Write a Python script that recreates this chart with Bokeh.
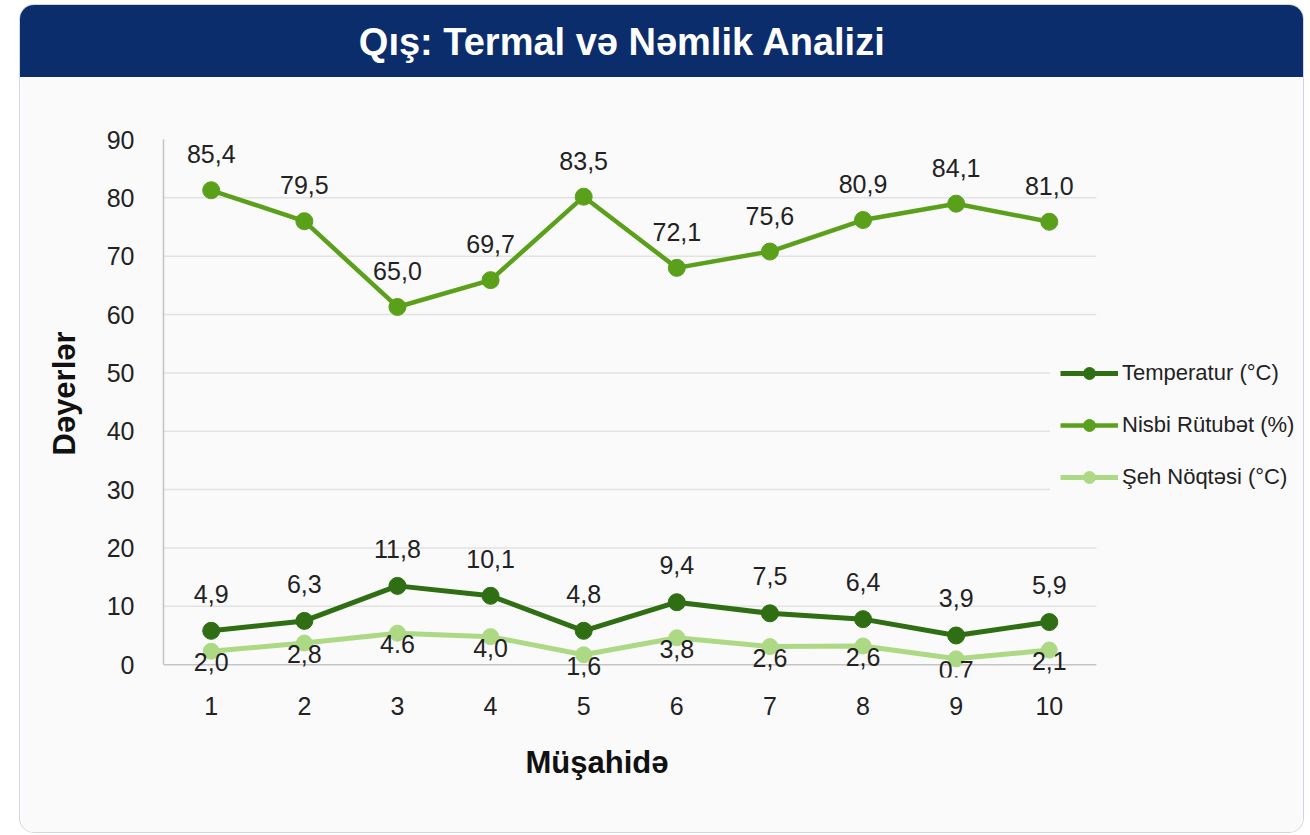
from bokeh.plotting import figure
from bokeh.models import ColumnDataSource, Legend, LegendItem, FixedTicker, Label, Range1d, Title
from bokeh.layouts import column
from bokeh.core.properties import value
from bokeh.embed import file_html
from bokeh.resources import INLINE

# ---- data ----
observations = [1, 2, 3, 4, 5, 6, 7, 8, 9, 10]
temperature = [5.8, 7.5, 13.5, 11.8, 5.8, 10.7, 8.8, 7.8, 5.0, 7.3]
humidity = [81.3, 76.0, 61.3, 65.9, 80.2, 68.0, 70.8, 76.2, 79.0, 75.9]
dew_point = [2.3, 3.7, 5.4, 4.8, 1.7, 4.6, 3.1, 3.2, 1.0, 2.5]
temperature_labels = ["4,9", "6,3", "11,8", "10,1", "4,8", "9,4", "7,5", "6,4", "3,9", "5,9"]
humidity_labels = ["85,4", "79,5", "65,0", "69,7", "83,5", "72,1", "75,6", "80,9", "84,1", "81,0"]
dew_labels = ["2,0", "2,8", "4.6", "4,0", "1,6", "3,8", "2,6", "2,6", "0,7", "2,1"]
y_ticks = [0, 10, 20, 30, 40, 50, 60, 70, 80, 90]
series_names = ["Temperatur (°C)", "Nisbi Rütubət (%)", "Şeh Nöqtəsi (°C)"]
x_title = "Müşahidə"
y_title = "Dəyerlər"
chart_title = "Qış: Termal və Nəmlik Analizi"

FONT = "Liberation Sans"
CARD = "#fafafa"
NAVY = "#0b2d6b"
C_TEMP = "#2f6e12"
C_HUM = "#5ba01b"
C_DEW = "#add985"
W = 1283

X_START, X_PLOT_END, X_END = 0.4876, 10.505, 12.73
Y_START, Y_END = -2.2, 90

# ---- title bar ----
tf = figure(width=W, height=72, x_range=Range1d(0, 1), y_range=Range1d(0, 1),
            toolbar_location=None, output_backend="svg", min_border=0,
            x_axis_location=None, y_axis_location=None,
            styles={"background-color": NAVY})
tf.grid.visible = False
tf.outline_line_color = None
tf.background_fill_alpha = 0
tf.border_fill_alpha = 0
tf.add_layout(Label(x=459, y=36, x_units="screen", y_units="screen",
                    text=chart_title, text_align="center",
                    text_baseline="middle", text_color="white", text_font=FONT,
                    text_font_style="bold", text_font_size="38px"))

# ---- main chart ----
p = figure(width=W, height=755, x_range=Range1d(X_START, X_END), y_range=Range1d(Y_START, Y_END),
           toolbar_location=None, output_backend="svg",
           min_border_left=143, min_border_right=0, min_border_top=62, min_border_bottom=155)
p.background_fill_color = CARD
p.border_fill_color = CARD
p.outline_line_color = None
p.grid.visible = False

# horizontal grid lines (and the zero base line), limited to the plotting width
grid_y = y_ticks[1:-1]
p.segment(x0=[X_START] * len(grid_y), x1=[X_PLOT_END] * len(grid_y), y0=grid_y, y1=grid_y,
          line_color="#e2e2e2", line_width=1.5)
p.segment(x0=[X_START], x1=[X_PLOT_END], y0=[y_ticks[0]], y1=[y_ticks[0]],
          line_color="#c4c4c4", line_width=1.5)

p.xaxis.ticker = FixedTicker(ticks=observations)
p.yaxis.ticker = FixedTicker(ticks=y_ticks)
p.yaxis.bounds = (0, Y_END)
p.xaxis.axis_line_color = None
p.yaxis.axis_line_color = "#c4c4c4"
p.yaxis.axis_line_width = 1.5
for ax in (p.xaxis, p.yaxis):
    ax.major_tick_line_color = None
    ax.minor_tick_line_color = None
    ax.major_label_text_font = FONT
    ax.major_label_text_font_size = "25px"
    ax.major_label_text_color = "#222222"
p.xaxis.major_label_standoff = 13
p.yaxis.major_label_standoff = 23

# axis titles, placed like the reference (not centred on the full frame)
p.add_layout(Title(text=x_title, align="left", offset=362, standoff=51,
                   text_font=FONT, text_font_size="31px", text_font_style="bold",
                   text_color="#111111"), "below")
p.add_layout(Title(text=y_title, align="left", offset=222, standoff=44,
                   text_font=FONT, text_font_size="31px", text_font_style="bold",
                   text_color="#111111"), "left")

src = ColumnDataSource(dict(x=observations, t=temperature, h=humidity, d=dew_point,
                            tl=temperature_labels, hl=humidity_labels, dl=dew_labels))

r_tl = p.line("x", "t", source=src, line_color=C_TEMP, line_width=5)
r_tc = p.scatter("x", "t", source=src, size=17, fill_color=C_TEMP, line_color=C_TEMP)
r_hl = p.line("x", "h", source=src, line_color=C_HUM, line_width=4.5)
r_hc = p.scatter("x", "h", source=src, size=17, fill_color=C_HUM, line_color=C_HUM)
r_dl = p.line("x", "d", source=src, line_color=C_DEW, line_width=5)
r_dc = p.scatter("x", "d", source=src, size=16, fill_color=C_DEW, line_color=C_DEW)

lab_kw = dict(source=src, text_align="center", text_baseline="middle",
              text_font=value(FONT), text_font_size="25px", text_color="#222222")
p.text("x", "h", text="hl", y_offset=-36, **lab_kw)
p.text("x", "t", text="tl", y_offset=-37, **lab_kw)
p.text("x", "d", text="dl", y_offset=11, **lab_kw)

legend = Legend(items=[LegendItem(label=series_names[0], renderers=[r_tl, r_tc]),
                       LegendItem(label=series_names[1], renderers=[r_hl, r_hc]),
                       LegendItem(label=series_names[2], renderers=[r_dl, r_dc])],
                location=(887, 175), orientation="vertical",
                background_fill_color=CARD, background_fill_alpha=1.0,
                border_line_alpha=0, label_text_font=FONT, label_text_font_size="22px",
                label_text_color="#222222", glyph_width=58, glyph_height=30,
                label_height=30, spacing=22, padding=10, label_standoff=4, margin=0)
p.add_layout(legend, "center")

layout = column(tf, p, spacing=0,
                styles={"margin-left": "20px", "margin-top": "5px", "border-radius": "14px",
                        "overflow": "hidden", "box-shadow": "0 0 0 1px #cfd8e2"})

open("out.html", "w").write(file_html(layout, INLINE))
